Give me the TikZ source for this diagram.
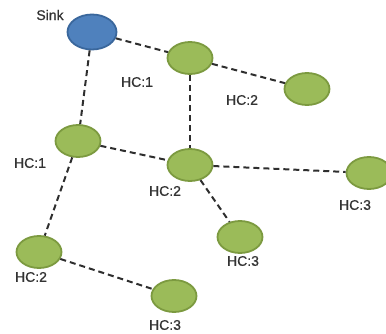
\documentclass[tikz,border=0pt]{standalone}
\usepackage{fontspec}
\setmainfont{Liberation Sans}
\newfontfamily\lblfont{Liberation Sans}[FakeBold=0.7]
\usetikzlibrary{shapes.geometric}
\definecolor{sinkblue}{HTML}{4F81BD}
\definecolor{sinkedge}{HTML}{3A679C}
\definecolor{hcgreen}{HTML}{9BBB59}
\definecolor{hcedge}{HTML}{7C9A40}
\definecolor{linkgray}{HTML}{2E2E2E}
\tikzset{
  sinknode/.style={ellipse, draw=sinkedge, fill=sinkblue, line width=1.8pt, minimum width=49pt, minimum height=35pt, inner sep=0pt},
  hcnode/.style={ellipse, draw=hcedge, fill=hcgreen, line width=1.8pt, minimum width=45pt, minimum height=32pt, inner sep=0pt},
  link/.style={draw=linkgray, line width=2pt, dash pattern=on 6pt off 4pt},
  lbl/.style={font=\lblfont\fontsize{14}{16}\selectfont, text=black!80, inner sep=0pt}
}
\begin{document}
\begin{tikzpicture}[x=1pt,y=-1pt]
\useasboundingbox (0,0) rectangle (386,334);
\node[sinknode] (sink) at (92,32) {};
\node[hcnode] (a) at (190,58) {};
\node[hcnode] (b) at (307,89) {};
\node[hcnode] (c) at (78,141) {};
\node[hcnode] (d) at (190,165) {};
\node[hcnode] (e) at (369,173) {};
\node[hcnode] (f) at (240,237) {};
\node[hcnode] (g) at (39,252) {};
\node[hcnode] (h) at (174,296) {};
\path[link] (sink) -- (a);
\path[link] (sink) -- (c);
\path[link] (a) -- (b);
\path[link] (a) -- (d);
\path[link] (c) -- (d);
\path[link] (d) -- (e);
\path[link] (d) -- (f);
\path[link] (c) -- (g);
\path[link] (g) -- (h);
\node[lbl] (ls) at (50,15) {Sink};
\node[lbl] (la) at (137,82) {HC:1};
\node[lbl] (lb) at (242,100) {HC:2};
\node[lbl] (lc) at (30,163) {HC:1};
\node[lbl] (ld) at (165,191) {HC:2};
\node[lbl] (le) at (355,205) {HC:3};
\node[lbl] (lf) at (243,261) {HC:3};
\node[lbl] (lg) at (31,277) {HC:2};
\node[lbl] (lh) at (165,325) {HC:3};
\end{tikzpicture}
\end{document}
